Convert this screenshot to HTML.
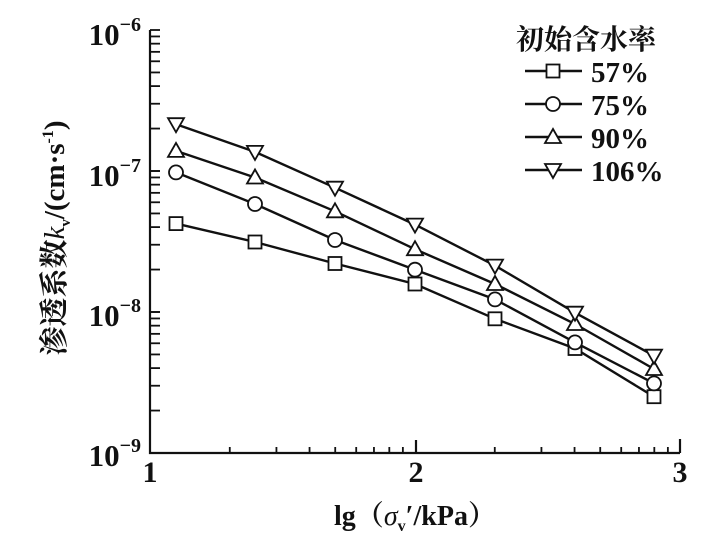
<!DOCTYPE html>
<html><head><meta charset="utf-8"><style>
html,body{margin:0;padding:0;background:#fff}
svg{display:block}
text{font-family:"Liberation Serif","Noto Serif CJK SC",serif;font-weight:bold;fill:#111}
</style></head><body>
<svg width="724" height="534" viewBox="0 0 724 534" xmlns="http://www.w3.org/2000/svg">
<g stroke="#111" stroke-width="2.2" fill="none">
<polyline points="150,30 150,453 680,453"/>
<line x1="680" y1="453" x2="680" y2="439"/>
<line x1="416" y1="453" x2="416" y2="440"/>
</g>
<g id="ticks" stroke="#111" stroke-width="1.8"></g>
<g stroke="#111" stroke-width="2.4" fill="none">
<polyline points="176,223.6 255,242 335,263.5 415,284 495,318.8 575,348.5 654,396.7"/>
<polyline points="176,172.4 255,204 335,240 415,269.7 495,299.4 575,342.4 654,383.4"/>
<polyline points="176,150.9 255,177.5 335,211.3 415,249.2 495,284 575,324 654,369"/>
<polyline points="176,124.2 255,151.9 335,187.7 415,224.6 495,265.6 575,312.7 654,355.7"/>
<line x1="525" y1="71" x2="582" y2="71"/>
<line x1="525" y1="104" x2="582" y2="104"/>
<line x1="525" y1="137" x2="582" y2="137"/>
<line x1="525" y1="170" x2="582" y2="170"/>
</g>
<g id="marks" stroke="#111" stroke-width="1.8" fill="#fff"></g>
<text x="141" y="45" font-size="31" font-weight="normal" text-anchor="end">10<tspan font-size="20" dy="-14">−6</tspan></text>
<text x="141" y="186" font-size="31" font-weight="normal" text-anchor="end">10<tspan font-size="20" dy="-14">−7</tspan></text>
<text x="141" y="326" font-size="31" font-weight="normal" text-anchor="end">10<tspan font-size="20" dy="-14">−8</tspan></text>
<text x="141" y="466" font-size="31" font-weight="normal" text-anchor="end">10<tspan font-size="20" dy="-14">−9</tspan></text>
<text x="150" y="482" font-size="30" font-weight="normal" text-anchor="middle">1</text>
<text x="416" y="482" font-size="30" font-weight="normal" text-anchor="middle">2</text>
<text x="680" y="482" font-size="30" font-weight="normal" text-anchor="middle">3</text>
<text x="415" y="525" font-size="28" text-anchor="middle">lg（<tspan font-style="italic" font-weight="normal">σ</tspan><tspan font-size="16" dy="6">v</tspan><tspan dy="-6">′/kPa）</tspan></text>
<text transform="translate(64,238) rotate(-90)" font-size="29" text-anchor="middle">渗透系数<tspan font-style="italic" font-weight="normal">k</tspan><tspan font-size="15" dy="6">v</tspan><tspan dy="-6">/(cm·s</tspan><tspan font-size="16" dy="-11">-1</tspan><tspan dy="11">)</tspan></text>
<text x="516" y="49" font-size="28">初始含水率</text>
<text x="591" y="82" font-size="29">57%</text>
<text x="591" y="115" font-size="29">75%</text>
<text x="591" y="148" font-size="29">90%</text>
<text x="591" y="181" font-size="29">106%</text>
</svg>
<script>
var NS="http://www.w3.org/2000/svg";
var t=document.getElementById("ticks");
function ln(x1,y1,x2,y2){var l=document.createElementNS(NS,"line");l.setAttribute("x1",x1);l.setAttribute("y1",y1);l.setAttribute("x2",x2);l.setAttribute("y2",y2);t.appendChild(l);}
for(var d=0;d<3;d++){for(var k=1;k<=10;k++){var y=453-141*(d+Math.log10(k));ln(150,y,160,y);}}
for(var d=0;d<2;d++){for(var k=2;k<=9;k++){var x=150+265*(d+Math.log10(k));ln(x,453,x,447);}}
var m=document.getElementById("marks");
function el(n,a){var e=document.createElementNS(NS,n);for(var k in a)e.setAttribute(k,a[k]);m.appendChild(e);}
var xs=[176,255,335,415,495,575,654];
var S=[223.6,242,263.5,284,318.8,348.5,396.7],C=[172.4,204,240,269.7,299.4,342.4,383.4],U=[150.9,177.5,211.3,249.2,284,324,369],D=[124.2,151.9,187.7,224.6,265.6,312.7,355.7];
function sq(x,y){el("rect",{x:x-6.5,y:y-6.5,width:13,height:13});}
function ci(x,y){el("circle",{cx:x,cy:y,r:7});}
function tu(x,y){el("polygon",{points:(x-8)+","+(y+6)+" "+(x+8)+","+(y+6)+" "+x+","+(y-8)});}
function td(x,y){el("polygon",{points:(x-8)+","+(y-6)+" "+(x+8)+","+(y-6)+" "+x+","+(y+8)});}
for(var i=0;i<7;i++){sq(xs[i],S[i]);ci(xs[i],C[i]);tu(xs[i],U[i]);td(xs[i],D[i]);}
sq(553,71);ci(553,104);tu(553,137);td(553,170);
</script>
</body></html>
